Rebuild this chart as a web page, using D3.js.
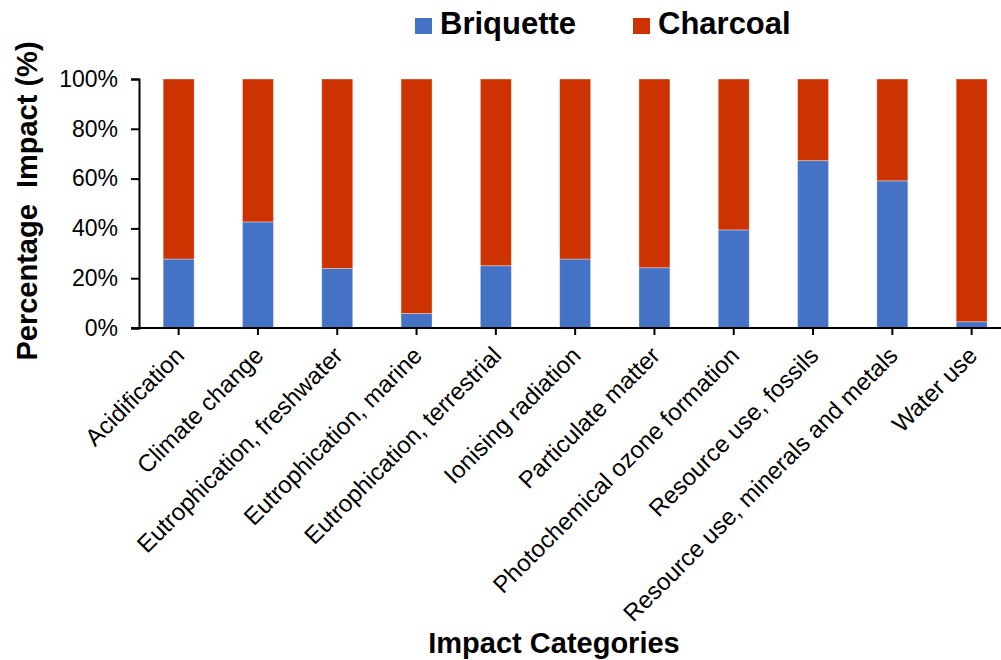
<!DOCTYPE html>
<html>
<head>
<meta charset="utf-8">
<script src="https://cdn.jsdelivr.net/npm/d3@7"></script>
<style>
  html, body { margin: 0; padding: 0; background: #fff; }
  svg { display: block; font-family: "Liberation Sans", Arial, sans-serif; }
</style>
</head>
<body>
<svg id="chart" width="1001" height="660"></svg>
<script>
const categories = [
  "Acidification",
  "Climate change",
  "Eutrophication, freshwater",
  "Eutrophication, marine",
  "Eutrophication, terrestrial",
  "Ionising radiation",
  "Particulate matter",
  "Photochemical ozone formation",
  "Resource use, fossils",
  "Resource use, minerals and metals",
  "Water use"
];
const briquette = [27.7, 42.6, 23.9, 5.8, 25.0, 27.7, 24.2, 39.4, 67.2, 59.1, 2.5];
const charcoal  = [72.3, 57.4, 76.1, 94.2, 75.0, 72.3, 75.8, 60.6, 32.8, 40.9, 97.5];
const seriesNames = ["Briquette", "Charcoal"];
const seriesColors = ["#4472C4", "#CC3300"];
const yTicks = [0, 20, 40, 60, 80, 100];

const svg = d3.select("#chart");

const mLeft = 139, mTop = 79, mBottom = 328;
const step = 79.3;
const x = d3.scaleBand()
  .domain(categories)
  .range([mLeft, mLeft + step * categories.length])
  .paddingInner(0.609)
  .paddingOuter(0.3045);
const y = d3.scaleLinear().domain([0, 100]).range([mBottom, mTop]);

const rows = categories.map((c, i) => ({ category: c, Briquette: briquette[i], Charcoal: charcoal[i] }));
const stacked = d3.stack().keys(seriesNames)(rows);

const g = svg.append("g");
g.selectAll("g.series")
  .data(stacked)
  .join("g")
  .attr("class", "series")
  .attr("fill", (d, i) => seriesColors[i])
  .selectAll("rect")
  .data(d => d)
  .join("rect")
  .attr("x", d => x(d.data.category))
  .attr("width", x.bandwidth())
  .attr("y", d => y(d[1]))
  .attr("height", d => y(d[0]) - y(d[1]))
  .attr("stroke", "#ffffff")
  .attr("stroke-opacity", 0.45)
  .attr("stroke-width", 0.8);

// Y axis
const yAxis = d3.axisLeft(y)
  .tickValues(yTicks)
  .tickFormat(d => d + "%")
  .tickSize(8)
  .tickPadding(13);
const yg = svg.append("g").attr("transform", `translate(${mLeft},0)`).call(yAxis);
yg.select(".domain").attr("stroke", "#000").attr("stroke-width", 2);
yg.selectAll(".tick line").attr("stroke", "#000").attr("stroke-width", 2);
yg.selectAll(".tick text").attr("fill", "#000").style("font-size", "23px")
  .style("font-family", "'Liberation Sans', Arial, sans-serif");

// X axis
const xAxis = d3.axisBottom(x).tickSize(7).tickSizeOuter(0);
const xg = svg.append("g").attr("transform", `translate(0,${mBottom})`).call(xAxis);
xg.select(".domain").attr("stroke", "#000").attr("stroke-width", 2)
  .attr("d", `M${mLeft - 8},0H${mLeft + step * categories.length}`);
xg.selectAll(".tick line").attr("stroke", "#000").attr("stroke-width", 2);
xg.selectAll(".tick text")
  .attr("fill", "#000")
  .style("font-size", "24px")
  .style("font-family", "'Liberation Sans', Arial, sans-serif")
  .attr("text-anchor", "end")
  .attr("dy", null)
  .attr("y", null)
  .attr("transform", "translate(7,29) rotate(-45)");

// Axis titles
svg.append("text")
  .attr("transform", "translate(37,201) rotate(-90)")
  .attr("text-anchor", "middle")
  .style("font-size", "29px")
  .style("font-weight", "bold")
  .style("white-space", "pre")
  .text("Percentage  Impact (%)");

svg.append("text")
  .attr("x", 554)
  .attr("y", 653)
  .attr("text-anchor", "middle")
  .style("font-size", "29px")
  .style("font-weight", "bold")
  .text("Impact Categories");

// Legend
const legendX = [415, 633];
const lg = svg.append("g");
seriesNames.forEach((name, i) => {
  lg.append("rect")
    .attr("x", legendX[i]).attr("y", 18)
    .attr("width", 17).attr("height", 16)
    .attr("fill", seriesColors[i]);
  lg.append("text")
    .attr("x", legendX[i] + 25).attr("y", 34)
    .style("font-size", "31px")
    .style("font-weight", "bold")
    .text(name);
});
</script>
</body>
</html>
